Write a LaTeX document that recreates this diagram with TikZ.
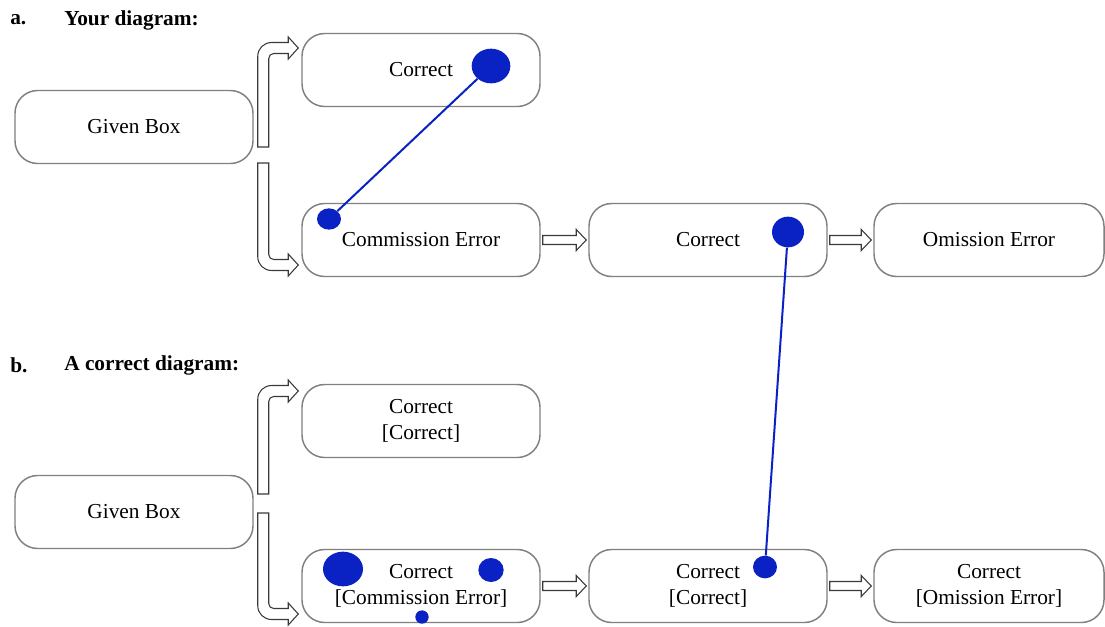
\documentclass[tikz,border=0pt]{standalone}
\usepackage{fontspec}
\setmainfont{Liberation Serif}
\usetikzlibrary{calc,shapes.geometric}
\definecolor{boxline}{HTML}{808080}
\definecolor{arrowline}{HTML}{3A3A3A}
\definecolor{marker}{HTML}{0A22C4}

\begin{document}
\begin{tikzpicture}[x=0.75pt,y=-0.75pt,
  stage/.style={draw=boxline,line width=1.1pt,rounded corners=17pt,minimum width=178.5pt,minimum height=54.75pt,inner sep=0pt,align=center,font=\fontsize{16}{19.5}\selectfont},
  hollow/.style={draw=arrowline,line width=0.8pt,fill=white},
  blob/.style={ellipse,fill=marker,inner sep=0pt},
  trace/.style={marker,line width=1.5pt},
  heading/.style={anchor=west,inner sep=0pt,font=\fontsize{16}{19}\selectfont\bfseries}]
  \useasboundingbox (0,0) rectangle (1105,626);
  % headings
  \node[heading] (la) at (10,20) {a.};
  \node[heading] (ta) at (64,20) {Your diagram:};
  \node[heading] (lb) at (10,365) {b.};
  \node[heading] (tb) at (64,365) {A correct diagram:};
  % your diagram
  \node[stage] (ga) at (134,127) {Given Box};
  \node[stage] (ca) at (421,70) {Correct};
  \node[stage] (ea) at (421,240) {Commission Error};
  \node[stage] (ma) at (708,240) {Correct};
  \node[stage,minimum width=172.5pt] (oa) at (989,240) {Omission Error};
  % correct diagram
  \node[stage] (gb) at (134,512) {Given Box};
  \node[stage] (cb) at (421,421) {Correct\\{}[Correct]};
  \node[stage] (eb) at (421,586) {Correct\\{}[Commission Error]};
  \node[stage] (mb) at (708,586) {Correct\\{}[Correct]};
  \node[stage,minimum width=172.5pt] (ob) at (989,586) {Correct\\{}[Omission Error]};
  % bent block arrows out of the given boxes
  \foreach \g/\t/\s/\e/\d in {ga/ca/20/-22/-1, ga/ea/36/25/1, gb/cb/-18/-30/-1, gb/eb/1/28/1}{
    \coordinate (sh) at ($(\g.east)+(4,\s)$);
    \coordinate (tp) at ($(\t.west)+(-3,\e)$);
    \draw[hollow] (sh) -- ($(sh|-tp)+(0,-8.5*\d)$) .. controls ($(sh|-tp)+(0,-0.5*\d)$) and ($(sh|-tp)+(6,5.5*\d)$) .. ($(sh|-tp)+(14,5.5*\d)$)
      -- ($(tp)+(-10,5.5*\d)$) -- ($(tp)+(-10,11*\d)$) -- (tp) -- ($(tp)+(-10,-11*\d)$) -- ($(tp)+(-10,-5.5*\d)$)
      -- ($(sh|-tp)+(16,-5.5*\d)$) .. controls ($(sh|-tp)+(13.2,-5.5*\d)$) and ($(sh|-tp)+(11,-7.7*\d)$) .. ($(sh|-tp)+(11,-10.5*\d)$)
      -- ($(sh)+(11,0)$) -- cycle;
  }
  % straight block arrows
  \foreach \a/\b in {ea/ma, ma/oa, eb/mb, mb/ob}{
    \draw[hollow] ($(\a.east)+(2,-4.5)$) -- ($(\b.west)+(-12,-4.5)$) -- ($(\b.west)+(-12,-10.5)$) -- ($(\b.west)+(-2,0)$)
      -- ($(\b.west)+(-12,10.5)$) -- ($(\b.west)+(-12,4.5)$) -- ($(\a.east)+(2,4.5)$) -- cycle;
  }
  % blue marks
  \foreach \n/\x/\y/\w/\h in {pa/491/66/29/26, pb/329/219/18/16, pc/788/232/24/23, pd/765/567/18/17, pe/343/569/30/26, pf/491/570/19/18, pg/422/617/10/10}
    \node[blob,minimum width=\w pt,minimum height=\h pt] (\n) at (\x,\y) {};
  \draw[trace] (pb) -- (pa);
  \draw[trace] (pc) -- (pd);
\end{tikzpicture}
\end{document}
